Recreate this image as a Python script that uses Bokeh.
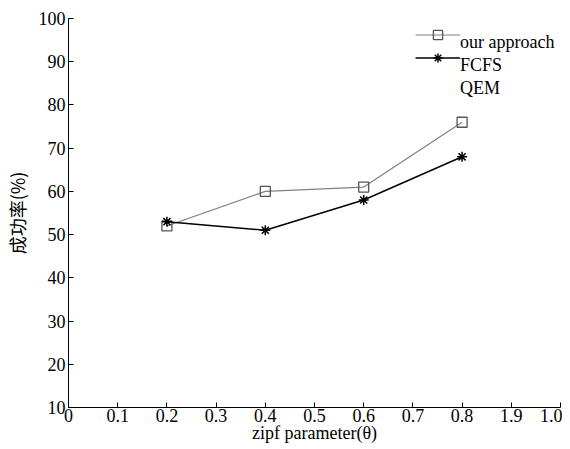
from bokeh.plotting import figure
from bokeh.models import FixedTicker, Legend, LegendItem
from bokeh.embed import file_html
from bokeh.resources import INLINE

# data
theta = [0.2, 0.4, 0.6, 0.8]
our_approach = [52, 60, 61, 76]
fcfs = [53, 51, 58, 68]
series_names = ["our approach", "FCFS", "QEM"]
x_ticks = [0, 0.1, 0.2, 0.3, 0.4, 0.5, 0.6, 0.7, 0.8, 0.9, 1.0]
x_tick_labels = ["0", "0.1", "0.2", "0.3", "0.4", "0.5", "0.6", "0.7", "0.8", "1.9", "1.0"]
y_ticks = [10, 20, 30, 40, 50, 60, 70, 80, 90, 100]

SERIF = "Liberation Serif"

p = figure(width=562, height=445, x_range=(0, 1.0), y_range=(10, 100),
           output_backend="svg", toolbar_location=None,
           min_border_left=58, min_border_right=2, min_border_top=18, min_border_bottom=30)
p.outline_line_color = None
p.xgrid.visible = False
p.ygrid.visible = False
p.background_fill_color = "white"

for ax in (p.xaxis[0], p.yaxis[0]):
    ax.major_tick_in = 5
    ax.major_tick_out = 0
    ax.minor_tick_line_color = None
    ax.axis_line_color = "black"
    ax.major_tick_line_color = "black"
    ax.major_label_text_font = SERIF
    ax.major_label_text_font_size = "18px"
    ax.major_label_text_color = "black"
    ax.axis_label_text_font_style = "normal"
    ax.axis_label_text_color = "black"

p.xaxis.ticker = FixedTicker(ticks=x_ticks)
p.xaxis.major_label_overrides = {t: l for t, l in zip(x_ticks, x_tick_labels)}
p.xaxis.major_label_standoff = 1
p.xaxis.axis_label = "zipf parameter(θ)"
p.xaxis.axis_label_text_font = SERIF
p.xaxis.axis_label_text_font_size = "18px"
p.xaxis.axis_label_standoff = -2

p.yaxis.ticker = FixedTicker(ticks=y_ticks)
p.yaxis.major_label_standoff = 3
p.yaxis.axis_label = "成功率(%)"
p.yaxis.axis_label_text_font = "Noto Sans CJK SC"
p.yaxis.axis_label_text_font_size = "18px"
p.yaxis.axis_label_standoff = 6

l1 = p.line(theta, our_approach, line_color="#808080", line_width=1.2)
m1 = p.scatter(theta, our_approach, marker="square", size=10, fill_color=None,
               line_color="#555555", line_width=1.3)
l2 = p.line(theta, fcfs, line_color="black", line_width=1.5)
m2 = p.scatter(theta, fcfs, marker="asterisk", size=10, line_color="black", line_width=1.5)
blank = p.line([], [], line_alpha=0)


def style(lg):
    lg.glyph_width = 45
    lg.glyph_height = 23
    lg.label_height = 23
    lg.spacing = 0
    lg.padding = 0
    lg.margin = 0
    lg.label_standoff = 0
    lg.border_line_color = None
    lg.background_fill_alpha = 0
    lg.label_text_font = SERIF
    lg.label_text_font_size = "18px"
    lg.label_text_color = "black"


# glyph samples
legend_glyphs = Legend(items=[
    LegendItem(label=" ", renderers=[l1, m1]),
    LegendItem(label=" ", renderers=[l2, m2]),
    LegendItem(label=" ", renderers=[blank]),
], location=(347, 315))
style(legend_glyphs)
# labels, set slightly below the samples as in the original
legend_labels = Legend(items=[LegendItem(label=n, renderers=[blank]) for n in series_names],
                       location=(347, 307))
style(legend_labels)
p.add_layout(legend_glyphs)
p.add_layout(legend_labels)

open("out.html", "w").write(file_html(p, INLINE))
